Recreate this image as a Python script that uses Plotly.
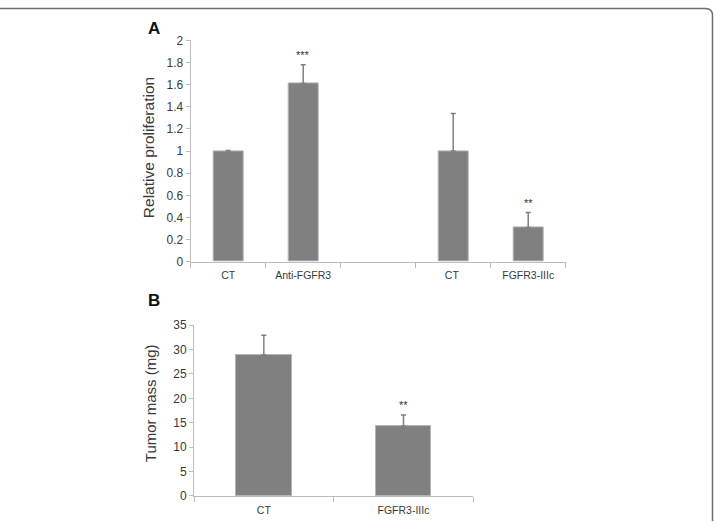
import plotly.graph_objects as go

W, H = 714, 528

# Panel A data
cats_a = ["CT", "Anti-FGFR3", " ", "CT ", "FGFR3-IIIc"]
bar_cats_a = ["CT", "Anti-FGFR3", "CT ", "FGFR3-IIIc"]
vals_a = [1.0, 1.61, 1.0, 0.31]
err_a = [0.005, 0.17, 0.34, 0.135]
sig_a = ["", "***", "", "**"]
yticks_a = [0, 0.2, 0.4, 0.6, 0.8, 1, 1.2, 1.4, 1.6, 1.8, 2]

# Panel B data
cats_b = ["CT", "FGFR3-IIIc"]
vals_b = [28.9, 14.35]
err_b = [4.0, 2.25]
sig_b = ["", "**"]
yticks_b = [0, 5, 10, 15, 20, 25, 30, 35]

BAR = "#808080"
AXC = "#bdbdbd"
TXT = "#3a3a3a"
FONT = "Liberation Sans, Arial, sans-serif"

def px_x(p):
    return p / W

def px_y(p):
    return 1 - p / H

fig = go.Figure()
fig.add_trace(go.Bar(
    x=bar_cats_a, y=vals_a, xaxis="x", yaxis="y",
    marker=dict(color=BAR, line=dict(color="#b5b5b5", width=1)),
    width=0.4,
    error_y=dict(type="data", array=err_a, symmetric=False, arrayminus=[0]*4,
                 color=BAR, thickness=1.5, width=2.5),
    showlegend=False, hoverinfo="skip"))
fig.add_trace(go.Bar(
    x=cats_b, y=vals_b, xaxis="x2", yaxis="y2",
    marker=dict(color=BAR, line=dict(color="#b5b5b5", width=1)),
    width=0.4,
    error_y=dict(type="data", array=err_b, symmetric=False, arrayminus=[0]*2,
                 color=BAR, thickness=1.5, width=2.5),
    showlegend=False, hoverinfo="skip"))

common_x = dict(showline=True, linecolor=AXC, linewidth=1, ticks="outside",
                ticklen=5, tickcolor=AXC, tickson="boundaries", showgrid=False,
                zeroline=False, tickfont=dict(family=FONT, size=10.5, color=TXT),
                ticklabelstandoff=4,
                type="category", fixedrange=True)
common_y = dict(showline=True, linecolor=AXC, linewidth=1, ticks="outside",
                ticklen=4, tickcolor=AXC, showgrid=False, zeroline=False,
                tickfont=dict(family=FONT, size=12, color=TXT), fixedrange=True)

fig.update_layout(
    width=W, height=H,
    margin=dict(l=0, r=0, t=0, b=0),
    paper_bgcolor="white", plot_bgcolor="white",
    bargap=0,
    xaxis=dict(**common_x, domain=[px_x(190.7), px_x(565.7)],
               categoryorder="array", categoryarray=cats_a,
               range=[-0.5, 4.5], anchor="y"),
    yaxis=dict(**common_y, domain=[px_y(261.7), px_y(34.3)],
               range=[0, 2], tickvals=yticks_a, anchor="x"),
    xaxis2=dict(**common_x, domain=[px_x(194), px_x(473.3)],
                categoryorder="array", categoryarray=cats_b,
                range=[-0.5, 1.5], anchor="y2"),
    yaxis2=dict(**common_y, domain=[px_y(502.3), px_y(326.7)],
                range=[0, 35], tickvals=yticks_b, anchor="x2"),
)

ann = []
# significance marks
for c, v, e, s in zip(bar_cats_a, vals_a, err_a, sig_a):
    if s:
        ann.append(dict(x=c, y=v + e, xref="x", yref="y", text=s, showarrow=False,
                        yanchor="bottom", yshift=2,
                        font=dict(family=FONT, size=11, color="#333333")))
for c, v, e, s in zip(cats_b, vals_b, err_b, sig_b):
    if s:
        ann.append(dict(x=c, y=v + e, xref="x2", yref="y2", text=s, showarrow=False,
                        yanchor="bottom", yshift=2,
                        font=dict(family=FONT, size=11, color="#333333")))
# axis titles
ann.append(dict(x=px_x(148), y=px_y(145), xref="paper", yref="paper",
                text="Relative proliferation", textangle=-90, showarrow=False,
                xanchor="center", yanchor="middle",
                font=dict(family=FONT, size=15.5, color=TXT)))
ann.append(dict(x=px_x(150), y=px_y(407), xref="paper", yref="paper",
                text="Tumor mass (mg)", textangle=-90, showarrow=False,
                xanchor="center", yanchor="middle",
                font=dict(family=FONT, size=15, color=TXT)))
# panel letters
ann.append(dict(x=px_x(146), y=px_y(22), xref="paper", yref="paper",
                text="<b>A</b>", showarrow=False, xanchor="left", yanchor="middle",
                font=dict(family=FONT, size=17, color="#111")))
ann.append(dict(x=px_x(146), y=px_y(301), xref="paper", yref="paper",
                text="<b>B</b>", showarrow=False, xanchor="left", yanchor="middle",
                font=dict(family=FONT, size=17, color="#111")))
fig.update_layout(annotations=ann)

# frame: top and right edge with rounded corner
y1 = px_y(1.5)
x1 = px_x(712.5)
r = 7
path = (f"M 0,{y1} L {px_x(712.5 - r)},{y1} "
        f"Q {x1},{y1} {x1},{px_y(1.5 + r)} L {x1},0")
fig.add_shape(type="path", path=path, xref="paper", yref="paper",
              line=dict(color="#6e6e6e", width=1.5))

fig.write_html("out.html")
